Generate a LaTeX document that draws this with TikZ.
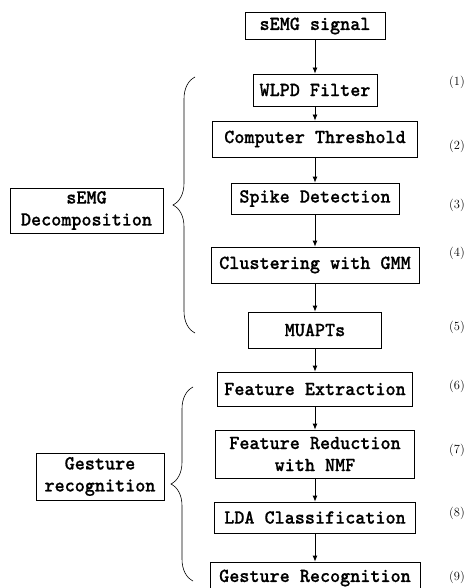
\documentclass[tikz,border=0pt]{standalone}
\usepackage{fontspec}
\usetikzlibrary{arrows.meta,decorations.pathreplacing}
\newfontfamily\bxfont[FakeStretch=0.96,FakeBold=0.6]{lmmonolt10-bold.otf}
\begin{document}
\begin{tikzpicture}[x=1pt,y=-1pt,
  stepbox/.style={draw,line width=0.8pt,inner sep=0pt,align=center,
    font=\bxfont\fontsize{20}{22}\selectfont},
  arr/.style={line width=0.8pt,-{Latex[length=6pt,width=5pt]}},
  numlabel/.style={font=\fontsize{12.5}{14}\selectfont,text=black},
  brc/.style={decorate,decoration={brace,amplitude=22pt},line width=0.6pt}]
\useasboundingbox (0,0) rectangle (468,588);
% main column
\node[stepbox,minimum width=140pt,minimum height=27pt] (sig) at (315,26) {sEMG signal};
\node[stepbox,minimum width=124pt,minimum height=32pt] (wlpd) at (315,90) {WLPD Filter};
\node[stepbox,minimum width=205pt,minimum height=36pt] (thr) at (315,139) {Computer Threshold};
\node[stepbox,minimum width=168pt,minimum height=31pt] (spk) at (315,198.5) {Spike Detection};
\node[stepbox,minimum width=208pt,minimum height=36pt] (gmm) at (315,265) {Clustering with GMM};
\node[stepbox,minimum width=133pt,minimum height=36pt] (mua) at (315,330) {MUAPTs};
\node[stepbox,minimum width=195pt,minimum height=34pt] (fex) at (315,389) {Feature Extraction};
\node[stepbox,minimum width=199pt,minimum height=48pt] (nmf) at (315,454) {Feature Reduction\\with NMF};
\node[stepbox,minimum width=201pt,minimum height=31pt] (lda) at (315,517.5) {LDA Classification};
\node[stepbox,minimum width=210pt,minimum height=32pt] (ges) at (315,578) {Gesture Recognition};
% left boxes
\node[stepbox,minimum width=153pt,minimum height=45pt] (dec) at (86.5,210.5) {sEMG\\Decomposition};
\node[stepbox,minimum width=128pt,minimum height=47pt] (grc) at (100,476.5) {Gesture\\recognition};
% arrows
\draw[arr] (sig) -- (wlpd);
\draw[arr] (wlpd) -- (thr);
\draw[arr] (thr) -- (spk);
\draw[arr] (spk) -- (gmm);
\draw[arr] (gmm) -- (mua);
\draw[arr] (mua) -- (fex);
\draw[arr] (fex) -- (nmf);
\draw[arr] (nmf) -- (lda);
\draw[arr] (lda) -- (ges);
% braces
\coordinate (b1t) at (195,77);
\coordinate (b1b) at (195,333);
\coordinate (b2t) at (193,387);
\coordinate (b2b) at (193,581);
\draw[brc] (b1b) -- (b1t);
\draw[brc] (b2b) -- (b2t);
% equation numbers
\node[numlabel] (n1) at (457,82) {(1)};
\node[numlabel] (n2) at (457,146) {(2)};
\node[numlabel] (n3) at (457,205) {(3)};
\node[numlabel] (n4) at (457,253) {(4)};
\node[numlabel] (n5) at (457,327) {(5)};
\node[numlabel] (n6) at (457,386) {(6)};
\node[numlabel] (n7) at (457,450) {(7)};
\node[numlabel] (n8) at (457,513) {(8)};
\node[numlabel] (n9) at (457,577) {(9)};
\end{tikzpicture}
\end{document}
